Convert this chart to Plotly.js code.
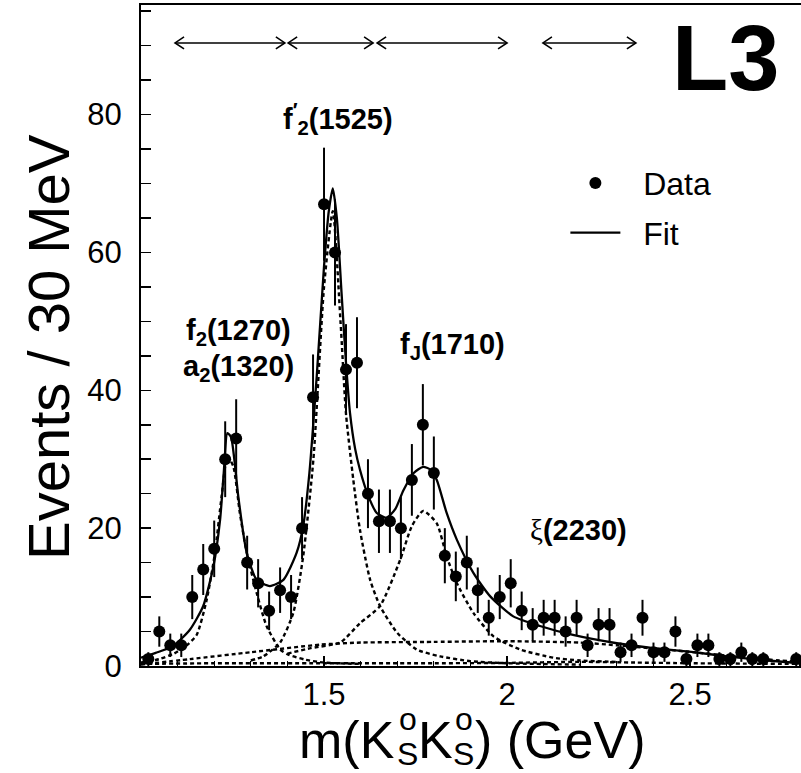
<!DOCTYPE html>
<html><head><meta charset="utf-8">
<script src="https://cdn.plot.ly/plotly-3.0.1.min.js"></script>
<style>html,body{margin:0;padding:0;background:#fff}</style>
</head><body><div id="chart" style="width:801px;height:773px"></div>
<script>
// ---- data ----
const massBins = [1.02,1.05,1.08,1.11,1.14,1.17,1.20,1.23,1.26,1.29,1.32,1.35,1.38,1.41,1.44,1.47,1.50,1.53,1.56,1.59,
  1.62,1.65,1.68,1.71,1.74,1.77,1.80,1.83,1.86,1.89,1.92,1.95,1.98,2.01,2.04,2.07,2.10,2.13,2.16,2.19,
  2.22,2.25,2.28,2.31,2.34,2.37,2.40,2.43,2.46,2.49,2.52,2.55,2.58,2.61,2.64,2.67,2.70,2.79];
const events = [1,5,3,3,10,14,17,30,33,15,12,8,11,10,20,39,67,60,43,44,
  25,21,21,20,27,35,28,16,13,15,11,7,10,12,8,6,7,7,5,7,
  3,6,6,2,3,7,2,2,5,1,3,3,1,1,2,1,1,1];
const eventErrors = [1.0,2.2,1.7,1.7,3.2,3.7,4.1,5.5,5.7,3.9,3.5,2.8,3.3,3.2,4.5,6.2,8.2,7.7,6.6,6.6,
  5.0,4.6,4.6,4.5,5.2,5.9,5.3,4.0,3.6,3.9,3.3,2.6,3.2,3.5,2.8,2.4,2.6,2.6,2.2,2.6,
  1.7,2.4,2.4,1.4,1.7,2.6,1.4,1.4,2.2,1.0,1.7,1.7,1.0,1.0,1.4,1.0,1.0,1.0];

// total fit (solid)
const fitX = [1.00,1.04,1.088,1.134,1.17,1.198,1.216,1.226,1.236,1.246,1.256,1.266,1.289,1.316,1.352,1.389,1.425,1.443,1.46,1.48,1.50,1.513,1.524,1.535,1.548,1.56,1.571,1.585,1.598,1.62,1.644,1.671,1.695,1.717,1.745,1.771,1.79,1.808,1.835,1.863,1.908,1.954,2.017,2.09,2.18,2.30,2.40,2.51,2.60,2.69,2.80];
const fitY = [1.2,1.9,2.9,5.3,8.7,14.5,21.2,28,33.8,33.2,29.5,24.5,16.4,12.5,11.6,12.5,16.4,20.3,28,42,58,66,69.3,65,54,44,36.7,31.5,28.5,24.8,22.2,21.5,22.8,25.5,28.0,28.9,28.5,27.0,22.2,18.3,13.5,10.1,7.2,5.8,4.5,3.3,2.6,2.0,1.4,0.9,0.4];

// f2(1270)/a2(1320) component (dashed)
const f2X = [1.00,1.05,1.09,1.125,1.152,1.179,1.202,1.22,1.236,1.252,1.27,1.289,1.316,1.343,1.38,1.40,1.45,1.50,1.60];
const f2Y = [0.5,1.0,1.8,3.0,4.5,9.5,16.4,24.5,30.4,29.0,22.2,16.4,10.6,5.8,2.4,1.7,0.9,0.5,0.3];

// f2'(1525) component (dashed)
const f2pX = [1.30,1.334,1.38,1.416,1.443,1.471,1.50,1.524,1.545,1.56,1.58,1.598,1.626,1.653,1.70,1.753,1.817,1.90,2.00,2.20];
const f2pY = [0.8,1.4,3.4,7.7,15.9,30,55,66,50,36.6,27.0,19.8,12.5,8.7,4.8,2.4,1.4,0.7,0.4,0.2];

// fJ(1710) component (dashed)
const fJX = [1.40,1.464,1.544,1.598,1.653,1.708,1.74,1.771,1.808,1.835,1.863,1.908,1.963,2.035,2.127,2.20,2.30];
const fJY = [1.8,2.6,3.4,6.2,8.7,15.4,20.3,22.5,20.7,15.9,12.0,7.7,4.3,2.4,1.2,0.8,0.6];

// broad background (dashed)
const bgX = [1.00,1.134,1.30,1.49,1.60,1.80,2.00,2.20,2.30,2.49,2.60,2.70,2.80];
const bgY = [0.2,1.0,2.0,3.1,3.4,3.5,3.6,3.4,3.0,2.1,1.5,1.0,0.6];

// xi(2230) / lowest component (dashed)
const xiX = [1.00,1.20,1.50,1.80,2.00,2.20,2.35,2.50,2.80];
const xiY = [0.3,0.4,0.4,0.4,0.45,0.6,0.5,0.4,0.3];

// fit-range arrows (GeV)
const rangeStart = [1.093,1.402,1.645,2.098];
const rangeEnd   = [1.393,1.634,2.000,2.352];
const arrowLevel = 90.4;

const xTickVals = [1.5,2,2.5];
const xTickText = ['1.5','2','2.5'];
const yTickVals = [0,20,40,60,80];
const yTickText = ['0','20','40','60','80'];

// ---- plot ----
const FONT = 'Liberation Sans, Arial, Helvetica, sans-serif';
const dashStyle = {color:'#000', width:2.4, dash:'4px,3px', shape:'spline', smoothing:0.6};
const NB = '\u00a0\u00a0';

const traces = [
  {x:bgX, y:bgY, mode:'lines', line:dashStyle, showlegend:false, hoverinfo:'skip'},
  {x:xiX, y:xiY, mode:'lines', line:dashStyle, showlegend:false, hoverinfo:'skip'},
  {x:f2X, y:f2Y, mode:'lines', line:dashStyle, showlegend:false, hoverinfo:'skip'},
  {x:f2pX, y:f2pY, mode:'lines', line:dashStyle, showlegend:false, hoverinfo:'skip'},
  {x:fJX, y:fJY, mode:'lines', line:dashStyle, showlegend:false, hoverinfo:'skip'},
  {x:massBins, y:events, mode:'markers', name:NB+'Data', legendgroup:'a',
    marker:{color:'#000', size:12, symbol:'circle'},
    error_y:{type:'data', array:eventErrors, visible:true, color:'#000', thickness:2, width:0}},
  {x:fitX, y:fitY, mode:'lines', name:NB+'Fit', legendgroup:'b',
    line:{color:'#000', width:2.3, shape:'spline', smoothing:0.6}}
];

const LBL = {size:29, family:FONT, color:'#000'};
const TT = {size:52, family:FONT, color:'#000'};
const SS = {size:32, family:FONT, color:'#000'};
const annotations = [
  {x:1.265, y:48.4, xref:'x', yref:'y', text:'<b>f<sub>2</sub>(1270)</b>', showarrow:false, font:LBL},
  {x:1.265, y:43.2, xref:'x', yref:'y', text:'<b>a<sub>2</sub>(1320)</b>', showarrow:false, font:LBL},
  {x:1.538, y:79.4, xref:'x', yref:'y', text:'<b>f<sup>′</sup><sub>2</sub>(1525)</b>', showarrow:false, font:LBL},
  {x:1.85, y:46.4, xref:'x', yref:'y', text:'<b>f<sub>J</sub>(1710)</b>', showarrow:false, font:LBL},
  {x:2.194, y:19.8, xref:'x', yref:'y', text:'<span style="font-family:Liberation Serif;font-weight:normal">ξ</span><b>(2230)</b>', showarrow:false, font:LBL},
  {x:2.596, y:88.2, xref:'x', yref:'y', text:'<b>L3</b>', showarrow:false, font:{size:92, family:'Liberation Sans Narrow, Liberation Sans, Arial', color:'#000'}},
  // y axis title
  {x:-0.1409, y:0.4826, xref:'paper', yref:'paper', text:'Events / 30 MeV', textangle:-90, showarrow:false,
    xanchor:'center', yanchor:'middle', font:{size:58, family:FONT, color:'#000'}},
  // x axis title: m(K⁰ₛK⁰ₛ) (GeV) with stacked super/subscripts
  {x:0.3115, y:-0.1112, xref:'paper', yref:'paper', text:'m(K', showarrow:false, xanchor:'center', yanchor:'middle', font:TT},
  {x:0.4044, y:-0.0805, xref:'paper', yref:'paper', text:'o', showarrow:false, xanchor:'center', yanchor:'middle', font:SS},
  {x:0.4044, y:-0.1335, xref:'paper', yref:'paper', text:'S', showarrow:false, xanchor:'center', yanchor:'middle', font:SS},
  {x:0.4468, y:-0.1112, xref:'paper', yref:'paper', text:'K', showarrow:false, xanchor:'center', yanchor:'middle', font:TT},
  {x:0.4892, y:-0.0805, xref:'paper', yref:'paper', text:'o', showarrow:false, xanchor:'center', yanchor:'middle', font:SS},
  {x:0.4892, y:-0.1335, xref:'paper', yref:'paper', text:'S', showarrow:false, xanchor:'center', yanchor:'middle', font:SS},
  {x:0.6345, y:-0.1112, xref:'paper', yref:'paper', text:') (GeV)', showarrow:false, xanchor:'center', yanchor:'middle', font:TT}
];

// double-headed range arrows drawn as shapes (shaft + open chevrons)
const shapes = [];
for (let i = 0; i < rangeStart.length; i++) {
  shapes.push({type:'line', xref:'x', yref:'y', x0:rangeStart[i], x1:rangeEnd[i], y0:arrowLevel, y1:arrowLevel,
    line:{color:'#000', width:1.5}});
  shapes.push({type:'path', xref:'x', yref:'y', xsizemode:'pixel', ysizemode:'pixel', xanchor:rangeEnd[i], yanchor:arrowLevel,
    path:'M-9,-6L0,0L-9,6', line:{color:'#000', width:1.6}});
  shapes.push({type:'path', xref:'x', yref:'y', xsizemode:'pixel', ysizemode:'pixel', xanchor:rangeStart[i], yanchor:arrowLevel,
    path:'M9,-6L0,0L9,6', line:{color:'#000', width:1.6}});
}

const layout = {
  width:801, height:773,
  margin:{l:141, r:0, t:5, b:107},
  paper_bgcolor:'#fff', plot_bgcolor:'#fff',
  font:{family:FONT, color:'#000'},
  showlegend:true,
  legend:{x:0.643, y:0.772, xanchor:'left', yanchor:'top', font:{size:32, family:FONT}, bgcolor:'rgba(0,0,0,0)',
    traceorder:'grouped', tracegroupgap:5, itemwidth:50},
  xaxis:{range:[1.0,2.803], showgrid:false, zeroline:false, showline:true, linecolor:'#000', linewidth:2, mirror:true,
    ticks:'inside', ticklen:10, tickwidth:1.5, tickcolor:'#000', tickvals:xTickVals, ticktext:xTickText,
    minor:{dtick:0.1, tick0:0, ticks:'inside', ticklen:5, tickwidth:1.2, tickcolor:'#000'},
    tickfont:{size:31, family:FONT}},
  yaxis:{range:[0,95.9], showgrid:false, zeroline:false, showline:true, linecolor:'#000', linewidth:2, mirror:true,
    ticks:'inside', ticklen:10, tickwidth:1.5, tickcolor:'#000', tickvals:yTickVals, ticktext:yTickText,
    minor:{dtick:5, tick0:0, ticks:'inside', ticklen:10, tickwidth:1.5, tickcolor:'#000'},
    tickfont:{size:31, family:FONT}, ticklabelstandoff:11},
  annotations:annotations,
  shapes:shapes
};

Plotly.newPlot('chart', traces, layout, {staticPlot:true, displayModeBar:false});
</script></body></html>
